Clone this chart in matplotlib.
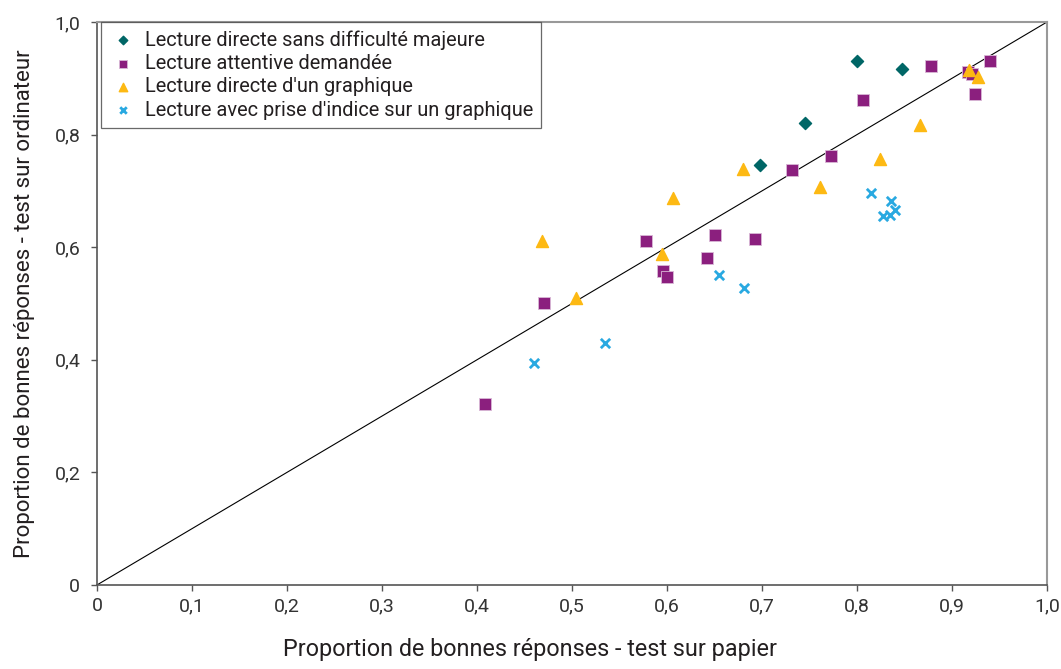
import numpy as np
import matplotlib.pyplot as plt
from matplotlib.ticker import FuncFormatter

# --------------> DATA
direct_x = [0.698, 0.745, 0.800, 0.847]
direct_y = [0.746, 0.821, 0.931, 0.917]

attentive_x = [0.408, 0.471, 0.578, 0.596, 0.600, 0.642, 0.651, 0.693, 0.732,
               0.773, 0.806, 0.878, 0.917, 0.921, 0.924, 0.940]
attentive_y = [0.321, 0.501, 0.611, 0.558, 0.547, 0.581, 0.622, 0.615, 0.737,
               0.762, 0.861, 0.922, 0.911, 0.908, 0.872, 0.931]

graph_x = [0.468, 0.504, 0.595, 0.606, 0.680, 0.761, 0.824, 0.866, 0.918, 0.927]
graph_y = [0.611, 0.510, 0.588, 0.687, 0.739, 0.707, 0.757, 0.817, 0.915, 0.902]

indice_x = [0.460, 0.535, 0.655, 0.681, 0.815, 0.836, 0.827, 0.835, 0.840]
indice_y = [0.394, 0.430, 0.551, 0.528, 0.696, 0.682, 0.656, 0.657, 0.666]

labels = ["Lecture directe sans difficulté majeure",
          "Lecture attentive demandée",
          "Lecture directe d'un graphique",
          "Lecture avec prise d'indice sur un graphique"]

# --------------> FIGURE
plt.rcParams['font.family'] = ['Roboto', 'DejaVu Sans']
text_col = '#231f20'

fig = plt.figure(figsize=(10.61, 6.69), dpi=100)
ax = fig.add_axes([0.0914, 0.1256, 0.8954, 0.8415])

ax.plot([0, 1], [0, 1], color='black', lw=0.8, zorder=1)

ax.scatter(direct_x, direct_y, marker='D', s=38, color='#006666', label=labels[0], zorder=3)
ax.scatter(attentive_x, attentive_y, marker='s', s=80, color='#8b1f7e',
           edgecolors='#d9b8d6', linewidths=0.6, label=labels[1], zorder=3)
ax.scatter(graph_x, graph_y, marker='^', s=75, color='#fdb913', label=labels[2], zorder=3)
ax.scatter(indice_x, indice_y, marker='x', s=45, color='#29a9e1', linewidths=2,
           label=labels[3], zorder=3)

ax.set_xlim(0, 1)
ax.set_ylim(0, 1)
ax.set_xticks(np.arange(0, 1.01, 0.1))
ax.set_yticks(np.arange(0, 1.01, 0.2))

fmt = FuncFormatter(lambda v, p: '0' if abs(v) < 1e-9 else f'{v:.1f}'.replace('.', ','))
ax.xaxis.set_major_formatter(fmt)
ax.yaxis.set_major_formatter(fmt)
ax.tick_params(labelsize=14, labelcolor='#333333', color='#555555', length=4,
               width=1, direction='out')
ax.tick_params(axis='x', pad=5)
ax.tick_params(axis='y', pad=8)

for s in ax.spines.values():
    s.set_color('#999999')
    s.set_linewidth(1.5)
ax.spines['left'].set_color('#555555')
ax.spines['bottom'].set_color('#555555')
ax.spines['left'].set_linewidth(1.2)
ax.spines['bottom'].set_linewidth(1.2)

ax.set_xlabel('Proportion de bonnes réponses - test sur papier', fontsize=16.8,
              color=text_col, labelpad=16)
ax.xaxis.label.set_x(0.456)  # centred on the figure, not the axes
ax.set_ylabel('Proportion de bonnes réponses - test sur ordinateur', fontsize=16,
              color=text_col, labelpad=14)

leg = ax.legend(loc='upper left', bbox_to_anchor=(0.004, 1.0), fontsize=14.4,
                frameon=True, fancybox=False, handletextpad=0.4, handlelength=1.4,
                borderaxespad=0, borderpad=0.4, labelspacing=0.22, markerscale=0.7)
leg.get_frame().set_edgecolor('#444444')
leg.get_frame().set_linewidth(0.9)
for t in leg.get_texts():
    t.set_color(text_col)

fig.savefig('out.png', dpi=100)
